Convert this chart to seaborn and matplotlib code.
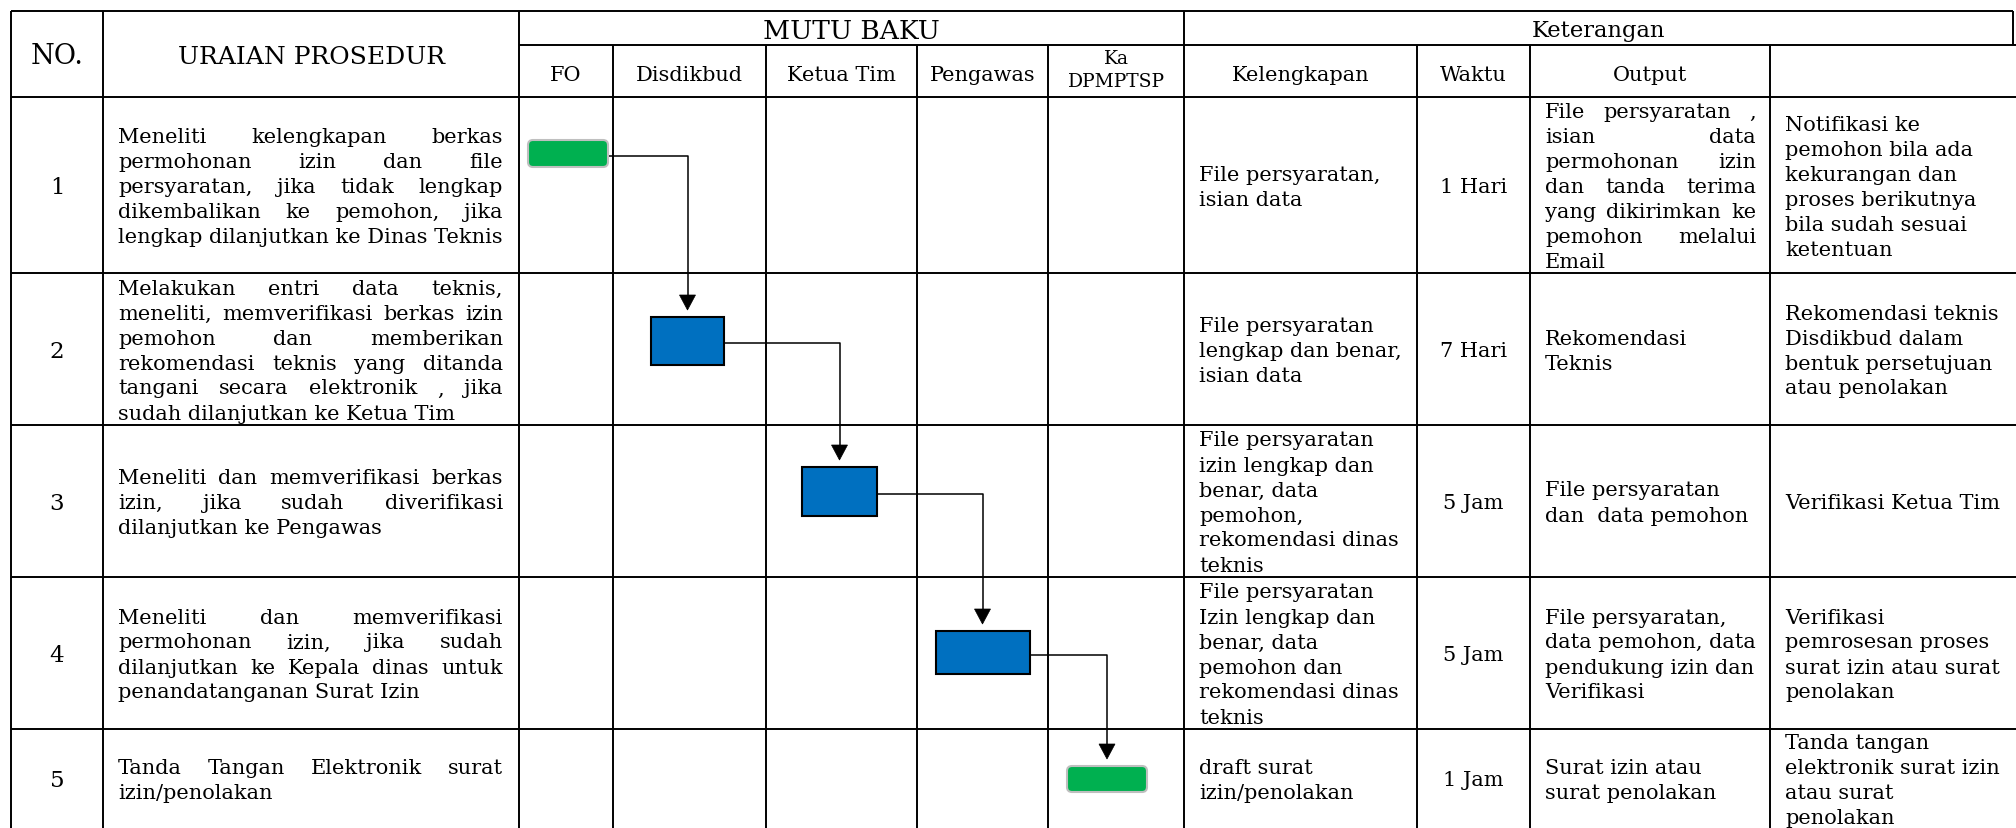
import matplotlib
matplotlib.use("Agg")
import matplotlib.pyplot as plt
import seaborn as sns
from matplotlib.patches import Rectangle, FancyBboxPatch, Polygon

sns.set_theme(style="white")
plt.rcParams['font.family'] = ['DejaVu Serif']
plt.rcParams['text.color'] = 'black'

# ---- data tabel SOP ----
nomor = ['1', '2', '3', '4', '5']
pelaksana = ['FO', 'Disdikbud', 'Ketua Tim', 'Pengawas', 'Ka\nDPMPTSP']
kolom_keterangan = ['Kelengkapan', 'Waktu', 'Output', '']
# pelaksana tiap langkah (indeks kolom) dan jenis simbol
langkah_pelaksana = [0, 1, 2, 3, 4]
jenis_simbol = ['terminator', 'proses', 'proses', 'proses', 'terminator']

uraian = [
    ["Meneliti kelengkapan berkas", "permohonan izin dan file",
     "persyaratan, jika tidak lengkap", "dikembalikan ke pemohon, jika",
     "lengkap dilanjutkan ke Dinas Teknis"],
    ["Melakukan entri data teknis,", "meneliti, memverifikasi berkas izin",
     "pemohon dan memberikan", "rekomendasi teknis yang ditanda",
     "tangani secara elektronik , jika", "sudah dilanjutkan ke Ketua Tim"],
    ["Meneliti dan memverifikasi berkas", "izin, jika sudah diverifikasi",
     "dilanjutkan ke Pengawas"],
    ["Meneliti dan memverifikasi", "permohonan izin, jika sudah",
     "dilanjutkan ke Kepala dinas untuk", "penandatanganan Surat Izin"],
    ["Tanda Tangan Elektronik surat", "izin/penolakan"],
]
kelengkapan = [
    ["File persyaratan,", "isian data"],
    ["File persyaratan", "lengkap dan benar,", "isian data"],
    ["File persyaratan", "izin lengkap dan", "benar, data", "pemohon,",
     "rekomendasi dinas", "teknis"],
    ["File persyaratan", "Izin lengkap dan", "benar, data", "pemohon dan",
     "rekomendasi dinas", "teknis"],
    ["draft surat", "izin/penolakan"],
]
waktu = ['1 Hari', '7 Hari', '5 Jam', '5 Jam', '1 Jam']
output = [
    ["File persyaratan ,", "isian data", "permohonan izin", "dan tanda terima",
     "yang dikirimkan ke", "pemohon melalui", "Email"],
    ["Rekomendasi", "Teknis"],
    ["File persyaratan", "dan  data pemohon"],
    ["File persyaratan,", "data pemohon, data", "pendukung izin dan", "Verifikasi"],
    ["Surat izin atau", "surat penolakan"],
]
keterangan = [
    ["Notifikasi ke", "pemohon bila ada", "kekurangan dan", "proses berikutnya",
     "bila sudah sesuai", "ketentuan"],
    ["Rekomendasi teknis", "Disdikbud dalam", "bentuk persetujuan", "atau penolakan"],
    ["Verifikasi Ketua Tim"],
    ["Verifikasi", "pemrosesan proses", "surat izin atau surat", "penolakan"],
    ["Tanda tangan", "elektronik surat izin", "atau surat", "penolakan"],
]

# ---- tata letak (piksel) ----
W, H = 2016, 829
col_x = [11, 103, 519, 613, 766, 917, 1048, 1184, 1417, 1530, 1770, 2016]
row_y = [12, 46, 98, 274, 426, 578, 730, 829]
FS = 15
LH = 25
LW = 1.4
# ukuran simbol (lebar, tinggi), jarak dari garis atas baris, geser horizontal
ukuran_simbol = [(80, 27), (73, 48), (75, 49), (94, 43), (80, 26)]
offset_simbol = [43, 44, 42, 54, 37]
geser_simbol = [2, -2, -2, 0, -9]
rata_output = [True, False, False, False, False]

fig = plt.figure(figsize=(W / 100, H / 100), dpi=100)
ax = fig.add_axes([0, 0, 1, 1])
ax.set_xlim(0, W)
ax.set_ylim(H, 0)
ax.axis('off')
renderer = fig.canvas.get_renderer()

# garis tabel
ax.hlines(row_y[0], col_x[0], 2013, color='black', lw=LW)
ax.hlines(row_y[1], col_x[2], W, color='black', lw=LW)
for y in row_y[2:-1]:
    ax.hlines(y, col_x[0], W, color='black', lw=LW)
for x in [col_x[0], col_x[1], col_x[2], col_x[7]]:
    ax.vlines(x, row_y[0], H, color='black', lw=LW)
for x in col_x[3:7] + col_x[8:11]:
    ax.vlines(x, row_y[1], H, color='black', lw=LW)
ax.vlines(2013, row_y[0], row_y[1], color='black', lw=LW)


def tulis(lines, x0, x1, yc, justify=False, size=FS):
    n = len(lines)
    y0 = yc - (n - 1) * LH / 2 + 7
    for i, line in enumerate(lines):
        y = y0 + i * LH
        words = line.split()
        if justify and i < n - 1 and len(words) > 1:
            objs = [ax.text(x0, y, w, fontsize=size, va='baseline', ha='left') for w in words]
            widths = [o.get_window_extent(renderer=renderer).width for o in objs]
            gap = (x1 - x0 - sum(widths)) / (len(words) - 1)
            x = x0
            for o, w in zip(objs, widths):
                o.set_x(x)
                x += w + gap
        else:
            ax.text(x0, y, line, fontsize=size, va='baseline', ha='left')


# header
ax.text((col_x[0] + col_x[1]) / 2, 64, 'NO.', fontsize=19.5, ha='center', va='baseline')
ax.text((col_x[1] + col_x[2]) / 2, 64, 'URAIAN PROSEDUR', fontsize=18, ha='center', va='baseline')
ax.text((col_x[2] + col_x[7]) / 2, 39, 'MUTU BAKU', fontsize=19, ha='center', va='baseline')
ax.text((col_x[7] + 2013) / 2, 37, 'Keterangan', fontsize=16.3, ha='center', va='baseline')
for j, p in enumerate(pelaksana):
    xc = (col_x[2 + j] + col_x[3 + j]) / 2
    if '\n' in p:
        a, b = p.split('\n')
        ax.text(xc, 64, a, fontsize=13.5, ha='center', va='baseline')
        ax.text(xc, 87, b, fontsize=13.5, ha='center', va='baseline')
    else:
        ax.text(xc, 81, p, fontsize=FS, ha='center', va='baseline')
for j, k in enumerate(kolom_keterangan):
    xc = (col_x[7 + j] + col_x[8 + j]) / 2
    ax.text(xc, 81, k, fontsize=FS, ha='center', va='baseline')

# isi baris
for i in range(len(nomor)):
    yt, yb = row_y[2 + i], row_y[3 + i]
    yc = (yt + yb) / 2
    ax.text((col_x[0] + col_x[1]) / 2, yc + 8, nomor[i], fontsize=16.5, ha='center', va='baseline')
    tulis(uraian[i], 118, 503, yc, justify=True)
    tulis(kelengkapan[i], 1199, 1405, yc)
    ax.text((col_x[8] + col_x[9]) / 2, yc + 7, waktu[i], fontsize=FS, ha='center', va='baseline')
    tulis(output[i], 1545, 1756, yc, justify=rata_output[i])
    tulis(keterangan[i], 1785, 2010, yc)

# simbol alur
simbol = []
for i, c in enumerate(langkah_pelaksana):
    w, h = ukuran_simbol[i]
    xc = (col_x[2 + c] + col_x[3 + c]) / 2 + geser_simbol[i]
    x0 = xc - w / 2
    y0 = row_y[2 + i] + offset_simbol[i]
    if jenis_simbol[i] == 'terminator':
        patch = FancyBboxPatch((x0, y0), w, h, boxstyle="round,pad=0,rounding_size=5",
                               facecolor='#00B050', edgecolor='#BFBFBF', lw=1.5, zorder=3)
    else:
        patch = Rectangle((x0, y0), w, h, facecolor='#0070C0', edgecolor='black', lw=1.5, zorder=3)
    ax.add_patch(patch)
    simbol.append((x0, y0, w, h))

# garis penghubung dan panah
for i in range(len(simbol) - 1):
    x0, y0, w, h = simbol[i]
    nx0, ny0, nw, nh = simbol[i + 1]
    ym = y0 + h / 2 + 2
    xa = nx0 + nw / 2
    tip = ny0 - 7
    ax.plot([x0 + w + 1, xa, xa], [ym, ym, tip - 14], color='black', lw=1.1, zorder=2)
    ax.add_patch(Polygon([[xa - 8, tip - 15], [xa + 8, tip - 15], [xa, tip]],
                         closed=True, facecolor='black', edgecolor='black', lw=0.5, zorder=2))

fig.savefig('out.png', dpi=100)
